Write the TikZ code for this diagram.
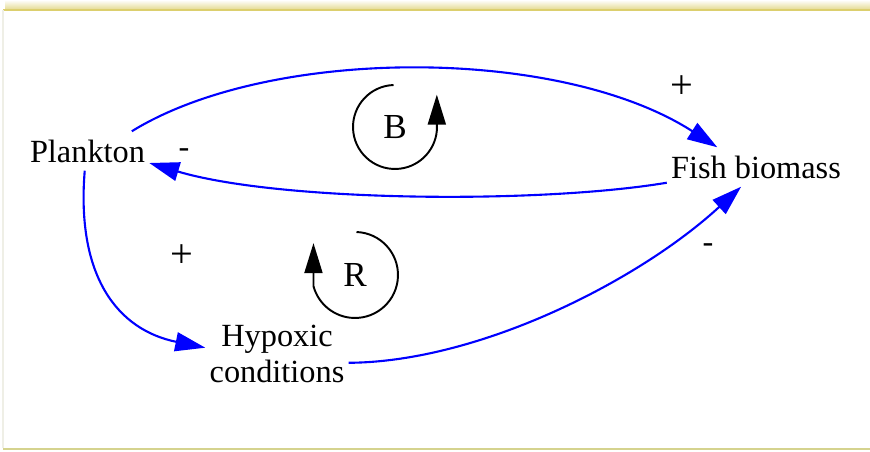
\documentclass[tikz,border=0pt]{standalone}
\usepackage{fontspec}
\setmainfont{Liberation Serif}
\usetikzlibrary{positioning,arrows.meta,calc}
\definecolor{linkblue}{HTML}{0000FF}
\definecolor{rimgold}{HTML}{DCCF6E}
\definecolor{rimolive}{HTML}{D5D38E}
\definecolor{rimgrey}{HTML}{EFEFE6}

\begin{document}
\begin{tikzpicture}[x=0.02cm, y=0.02cm,
  var/.style={inner xsep=0.08cm, inner ysep=0.16cm, font=\fontsize{18.4}{21}\selectfont, align=center},
  link/.style={draw=linkblue, line width=1.2pt, -{Triangle[length=0.6cm, width=0.38cm]}},
  sign/.style={inner sep=0pt, font=\fontsize{18.4}{21}\selectfont},
  plus/.style={inner sep=0pt, font=\fontsize{23}{25}\selectfont},
  loopline/.style={draw=black, line width=1.1pt, -{Triangle[length=0.6cm, width=0.36cm]}}
]
  \useasboundingbox (0,0) rectangle (870,452);
  % frame
  \shade[top color=white, bottom color=rimgold!80] (5,452) rectangle (870,442);
  \draw[rimgold, line width=0.8pt] (3,442) -- (870,442);
  \draw[rimgrey, line width=0.8pt] (3,442) -- (3,4);
  \draw[rimolive, line width=1.2pt] (3,3) -- (870,3);

  \node[var] (plank) at (87.5,301) {Plankton};
  \node[var] (fish)  at (756,285)  {Fish biomass};
  \node[var] (hyp)   at (277,98)   {Hypoxic\\conditions};

  \draw[link] (plank.24) .. controls (270,406) and (560,406) .. (fish.153);
  \draw[link] (fish.190) .. controls (540,248) and (280,250) .. (plank.349);
  \draw[link] (plank.262) .. controls (76,175) and (118,122) .. (hyp.175);
  \draw[link] (hyp.353) .. controls (480,90) and (640,172) .. (fish.233);

  \node[plus] (s1) at (682,365) {+};
  \node[sign] (s2) at (184,299) {-};
  \node[plus] (s3) at (182,196) {+};
  \node[sign] (s4) at (708,204) {-};

  % loop markers
  \node[sign, font=\fontsize{20}{22}\selectfont] (bal)  at (395,325) {B};
  \node[sign, font=\fontsize{20}{22}\selectfont] (rein) at (355,177) {R};
  \draw[loopline] (bal.center) ++(92:42) arc[start angle=92, end angle=355, radius=0.84cm] -- ++(0,36);
  \draw[loopline] (rein.center) ++(88:43) arc[start angle=88, end angle=-165, radius=0.86cm] -- ++(0,43);
\end{tikzpicture}
\end{document}
